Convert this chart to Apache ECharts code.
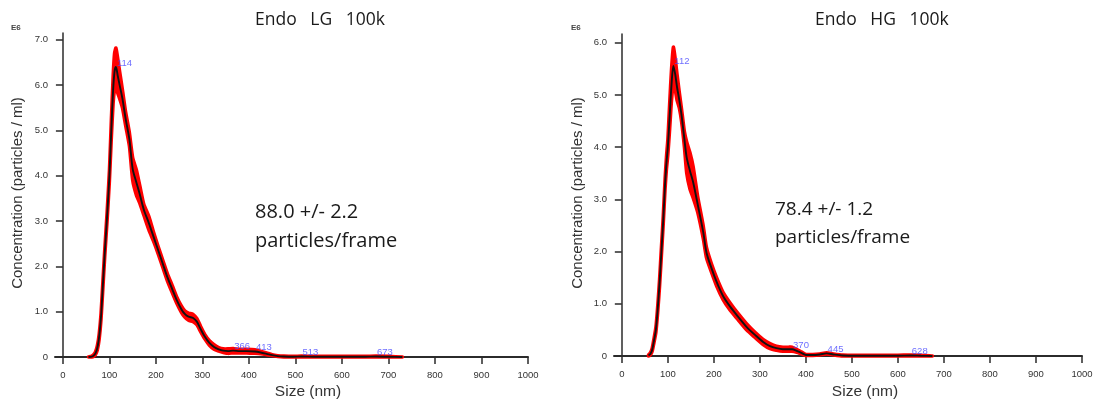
<!DOCTYPE html>
<html>
<head>
<meta charset="utf-8">
<script src="https://cdn.jsdelivr.net/npm/echarts@6.0.0/dist/echarts.min.js"></script>
<style>
  html, body { margin: 0; padding: 0; background: #fff; }
  #chart { width: 1099px; height: 401px; }
</style>
</head>
<body>
<div id="chart"></div>
<script>
// Particle size distributions (concentration in E6 particles/ml vs size in nm)
const xTicks = [0, 100, 200, 300, 400, 500, 600, 700, 800, 900, 1000];
const yTicksLG = [0, 1, 2, 3, 4, 5, 6, 7];
const yTicksHG = [0, 1, 2, 3, 4, 5, 6];

// Endo LG 100k
const lgSize = [55, 62, 66, 70, 74, 78, 82, 86, 90, 95, 100, 104, 108, 111, 114, 118, 122, 128, 135,
  143, 150, 158, 165, 174, 185, 195, 205, 215, 225, 235, 245, 255, 262, 270, 280, 288, 296, 305, 315,
  325, 335, 345, 355, 366, 380, 395, 413, 425, 438, 450, 462, 475, 495, 513, 540, 580, 620, 650, 673,
  700, 730];
const lgMean = [0, 0.01, 0.03, 0.08, 0.2, 0.45, 0.9, 1.6, 2.3, 3.1, 4.0, 5.0, 5.9, 6.3, 6.4, 6.2, 6.0, 5.7, 5.25,
  4.8, 4.15, 3.85, 3.6, 3.25, 2.95, 2.65, 2.35, 2.05, 1.75, 1.5, 1.25, 1.05, 0.95, 0.89, 0.86, 0.78, 0.62, 0.45, 0.31,
  0.22, 0.17, 0.14, 0.13, 0.14, 0.13, 0.13, 0.12, 0.1, 0.07, 0.04, 0.02, 0.01, 0.005, 0.01, 0.005, 0.005, 0.005, 0.005, 0.01,
  0.005, 0];
const lgErr = [0, 0.01, 0.02, 0.03, 0.05, 0.06, 0.07, 0.08, 0.08, 0.1, 0.12, 0.2, 0.3, 0.4, 0.42, 0.38, 0.3, 0.2, 0.15,
  0.15, 0.25, 0.28, 0.2, 0.12, 0.15, 0.1, 0.08, 0.08, 0.08, 0.08, 0.07, 0.07, 0.07, 0.08, 0.08, 0.07, 0.06, 0.05, 0.05,
  0.05, 0.04, 0.04, 0.05, 0.05, 0.04, 0.04, 0.04, 0.03, 0.02, 0.01, 0.01, 0.01, 0.01, 0.01, 0.01, 0.01, 0.01, 0.01, 0.01,
  0.01, 0];
const lgPeaks = [[114, 6.4], [366, 0.14], [413, 0.12], [513, 0.01], [673, 0.01]];

// Endo HG 100k
const hgSize = [58, 62, 66, 70, 74, 78, 82, 86, 90, 94, 97, 100, 104, 108, 112, 116, 120, 125, 130,
  136, 141, 148, 155, 165, 177, 184, 195, 206, 220, 235, 252, 271, 290, 307, 322, 336, 350, 362, 370,
  380, 390, 400, 415, 430, 445, 460, 480, 510, 560, 600, 628, 650, 675];
const hgMean = [0.01, 0.04, 0.12, 0.3, 0.5, 0.9, 1.4, 2.0, 2.6, 3.3, 3.7, 4.0, 4.6, 5.2, 5.56, 5.4, 5.15, 4.9, 4.6,
  4.15, 3.8, 3.55, 3.33, 2.9, 2.37, 1.98, 1.68, 1.42, 1.15, 0.95, 0.76, 0.56, 0.4, 0.27, 0.19, 0.15, 0.13, 0.13, 0.13,
  0.1, 0.06, 0.02, 0.02, 0.03, 0.05, 0.03, 0.01, 0.005, 0.005, 0.005, 0.01, 0.005, 0];
const hgErr = [0.01, 0.02, 0.03, 0.04, 0.05, 0.06, 0.07, 0.08, 0.08, 0.1, 0.12, 0.15, 0.25, 0.3, 0.36, 0.3, 0.25, 0.15, 0.12,
  0.15, 0.3, 0.35, 0.3, 0.15, 0.12, 0.1, 0.08, 0.08, 0.07, 0.07, 0.06, 0.06, 0.05, 0.05, 0.05, 0.04, 0.04, 0.04, 0.04,
  0.03, 0.02, 0.01, 0.01, 0.01, 0.01, 0.01, 0.01, 0.01, 0.01, 0.01, 0.01, 0.01, 0];
const hgPeaks = [[112, 5.56], [370, 0.13], [445, 0.05], [628, 0.01]];

const AXIS_COLOR = '#2b2b2b';
const LABEL_FONT = 'Liberation Sans, Arial, sans-serif';

function xAxisFor(gridIndex) {
  return {
    type: 'value', gridIndex: gridIndex, min: -17, max: 1000,
    axisLine: { show: true, lineStyle: { color: AXIS_COLOR, width: 2 } },
    axisTick: { show: true, length: 7, inside: false, customValues: xTicks, lineStyle: { color: AXIS_COLOR, width: 1.5 } },
    axisLabel: {
      customValues: xTicks, margin: 13, fontSize: 9.5, color: '#333', fontFamily: LABEL_FONT,
      formatter: v => String(v)
    },
    splitLine: { show: false }
  };
}

function yAxisFor(gridIndex, max, ticks) {
  return {
    type: 'value', gridIndex: gridIndex, min: 0, max: max,
    axisLine: { show: true, lineStyle: { color: AXIS_COLOR, width: 1.5 } },
    axisTick: { show: true, length: 7, customValues: ticks, lineStyle: { color: AXIS_COLOR, width: 1.5 } },
    axisLabel: {
      customValues: ticks, margin: 7, fontSize: 9.5, color: '#333', fontFamily: LABEL_FONT,
      formatter: v => (v === 0 ? '0' : v.toFixed(1))
    },
    splitLine: { show: false }
  };
}

// Error band drawn as one polygon: upper edge left to right, lower edge back.
function bandSeries(idx, size, mean, err) {
  const rows = size.map((s, i) => [s, Math.max(0, mean[i] - err[i]), mean[i] + err[i]]);
  return {
    type: 'custom', xAxisIndex: idx, yAxisIndex: idx, data: rows, silent: true, z: 3,
    encode: { x: 0, y: [1, 2] },
    renderItem: function (params, api) {
      if (params.dataIndex !== 0) return null;
      const top = rows.map(r => api.coord([r[0], r[2]]));
      const bottom = rows.map(r => api.coord([r[0], r[1]])).reverse();
      return {
        type: 'polygon',
        shape: { points: top.concat(bottom), smooth: 0.2 },
        style: { fill: '#ff0000', stroke: '#ff0000', lineWidth: 3.5, lineJoin: 'round' }
      };
    }
  };
}

function seriesFor(idx, size, mean, err, peaks) {
  const avg = size.map((s, i) => [s, mean[i]]);
  return [
    bandSeries(idx, size, mean, err),
    {
      type: 'line', xAxisIndex: idx, yAxisIndex: idx, data: avg,
      symbol: 'none', silent: true, smooth: 0.3, z: 5,
      lineStyle: { color: '#111', width: 1.9 }
    },
    {
      type: 'scatter', xAxisIndex: idx, yAxisIndex: idx, data: peaks,
      symbolSize: 2, itemStyle: { color: 'rgba(0,0,0,0)' }, z: 6, silent: true,
      label: {
        show: true, position: 'right', distance: 0, offset: [0, -4],
        formatter: p => String(p.value[0]),
        fontSize: 9.5, color: '#4a4aff', fontFamily: LABEL_FONT
      }
    }
  ];
}

function text(x, y, str, size, opts) {
  return Object.assign({
    type: 'text', x: x, y: y, silent: true,
    style: Object.assign({
      text: str, fontSize: size, fill: '#1a1a1a', fontFamily: 'Open Sans, sans-serif',
      textAlign: 'left', textVerticalAlign: 'middle'
    }, (opts && opts.style) || {})
  }, (opts && opts.el) || {});
}

const chart = echarts.init(document.getElementById('chart'), null, { renderer: 'canvas' });
chart.setOption({
  animation: false,
  backgroundColor: '#ffffff',
  grid: [
    { left: 55, top: 33, width: 473, height: 324, containLabel: false, outerBoundsMode: 'none' },
    { left: 614, top: 34, width: 468, height: 322, containLabel: false, outerBoundsMode: 'none' }
  ],
  xAxis: [xAxisFor(0), xAxisFor(1)],
  yAxis: [yAxisFor(0, 7.15, yTicksLG), yAxisFor(1, 6.17, yTicksHG)],
  series: [].concat(
    seriesFor(0, lgSize, lgMean, lgErr, lgPeaks),
    seriesFor(1, hgSize, hgMean, hgErr, hgPeaks)
  ),
  graphic: [
    text(255, 20, 'Endo   LG   100k', 17.5),
    text(815, 20, 'Endo   HG   100k', 17.5),
    text(255, 212, '88.0 +/- 2.2', 20),
    text(255, 241, 'particles/frame', 20),
    text(775, 210, '78.4 +/- 1.2', 19),
    text(775, 238, 'particles/frame', 19),
    text(11, 28, 'E6', 8, { style: { fontFamily: LABEL_FONT, fill: '#444', fontWeight: 'bold' } }),
    text(571, 28, 'E6', 8, { style: { fontFamily: LABEL_FONT, fill: '#444', fontWeight: 'bold' } }),
    text(18, 193, 'Concentration (particles / ml)', 15,
      { style: { fontFamily: LABEL_FONT, fill: '#333', textAlign: 'center' }, el: { rotation: Math.PI / 2 } }),
    text(578, 193, 'Concentration (particles / ml)', 15,
      { style: { fontFamily: LABEL_FONT, fill: '#333', textAlign: 'center' }, el: { rotation: Math.PI / 2 } }),
    text(308, 392, 'Size (nm)', 15.5, { style: { fontFamily: LABEL_FONT, fill: '#333', textAlign: 'center' } }),
    text(865, 392, 'Size (nm)', 15.5, { style: { fontFamily: LABEL_FONT, fill: '#333', textAlign: 'center' } })
  ]
});
</script>
</body>
</html>
